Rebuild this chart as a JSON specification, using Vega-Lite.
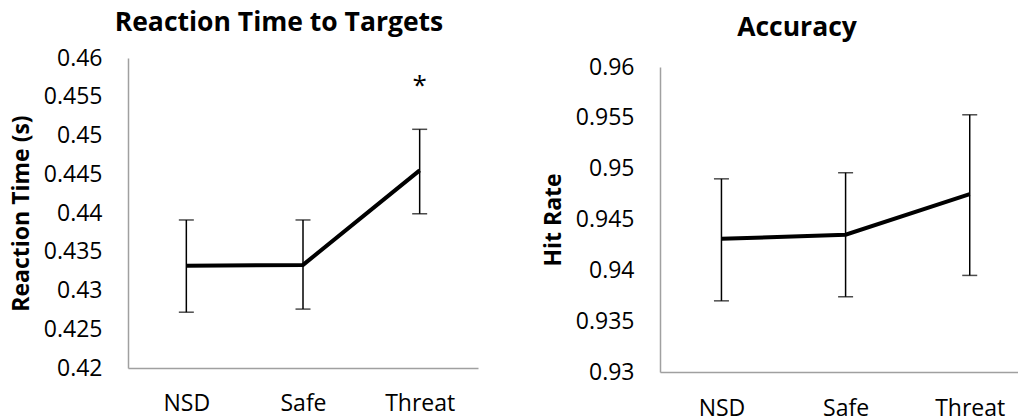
{
  "$schema": "https://vega.github.io/schema/vega-lite/v6.json",
  "background": "white",
  "padding": {"left": 10, "top": 9, "right": 0, "bottom": 0},
  "config": {
    "view": {"stroke": null},
    "font": "Open Sans",
    "axis": {"labelFont": "Open Sans", "labelFontSize": 23, "labelColor": "#000", "titleFont": "Open Sans", "titleFontSize": 23, "titleFontWeight": "bold", "titleColor": "#000", "domainColor": "#a0a0a0", "domainWidth": 1.5, "ticks": false, "grid": false, "labelOverlap": false},
    "title": {"font": "Open Sans", "fontSize": 26.5, "fontWeight": "bold", "color": "#000"}
  },
  "spacing": 64,
  "datasets": {
    "rt": [
      {"cond": "NSD", "mean": 0.4332, "lo": 0.4272, "hi": 0.4391},
      {"cond": "Safe", "mean": 0.4333, "lo": 0.4276, "hi": 0.4391},
      {"cond": "Threat", "mean": 0.4455, "lo": 0.4399, "hi": 0.4508}
    ],
    "acc": [
      {"cond": "NSD", "mean": 0.9431, "lo": 0.9370, "hi": 0.9490},
      {"cond": "Safe", "mean": 0.9435, "lo": 0.9374, "hi": 0.9496},
      {"cond": "Threat", "mean": 0.9475, "lo": 0.9395, "hi": 0.9553}
    ],
    "star": [{"cond": "Threat", "y": 0.4568, "label": "*"}]
  },
  "hconcat": [
    {
      "width": 350,
      "height": 310,
      "title": {"text": "Reaction Time to Targets", "offset": 11, "dx": -24},
      "layer": [
        {
          "data": {"name": "rt"},
          "mark": {"type": "rule", "color": "#000", "strokeWidth": 1.5},
          "encoding": {
            "x": {"field": "cond", "type": "nominal", "sort": ["NSD", "Safe", "Threat"], "scale": {"type": "point", "padding": 0.5}, "axis": {"title": null, "labelAngle": 0, "labelPadding": 24}},
            "y": {"field": "lo", "type": "quantitative", "scale": {"domain": [0.42, 0.46], "nice": false, "zero": false}, "axis": {"title": "Reaction Time (s)", "tickCount": 9, "format": ".3~f", "labelOverlap": false, "labelSeparation": 0, "labelPadding": 26, "titlePadding": 10}},
            "y2": {"field": "hi"}
          }
        },
        {
          "data": {"name": "rt"},
          "mark": {"type": "tick", "color": "#000", "thickness": 1.5, "size": 15, "orient": "horizontal"},
          "encoding": {
            "x": {"field": "cond", "type": "nominal", "sort": ["NSD", "Safe", "Threat"]},
            "y": {"field": "lo", "type": "quantitative"}
          }
        },
        {
          "data": {"name": "rt"},
          "mark": {"type": "tick", "color": "#000", "thickness": 1.5, "size": 15, "orient": "horizontal"},
          "encoding": {
            "x": {"field": "cond", "type": "nominal", "sort": ["NSD", "Safe", "Threat"]},
            "y": {"field": "hi", "type": "quantitative"}
          }
        },
        {
          "data": {"name": "rt"},
          "mark": {"type": "line", "color": "#000", "strokeWidth": 4},
          "encoding": {
            "x": {"field": "cond", "type": "nominal", "sort": ["NSD", "Safe", "Threat"]},
            "y": {"field": "mean", "type": "quantitative"}
          }
        },
        {
          "data": {"name": "star"},
          "mark": {"type": "text", "color": "#000", "fontSize": 26, "font": "Open Sans", "baseline": "middle", "dy": 3},
          "encoding": {
            "x": {"field": "cond", "type": "nominal", "sort": ["NSD", "Safe", "Threat"]},
            "y": {"field": "y", "type": "quantitative"},
            "text": {"field": "label"}
          }
        }
      ]
    },
    {
      "width": 360,
      "height": 314,
      "title": {"text": "Accuracy", "offset": 15, "dx": -43},
      "layer": [
        {
          "data": {"name": "acc"},
          "mark": {"type": "rule", "color": "#000", "strokeWidth": 1.5},
          "encoding": {
            "x": {"field": "cond", "type": "nominal", "sort": ["NSD", "Safe", "Threat"], "scale": {"type": "point", "padding": 0.45, "align": 0.55}, "axis": {"title": null, "labelAngle": 0, "labelPadding": 25}},
            "y": {"field": "lo", "type": "quantitative", "scale": {"domain": [0.93, 0.96], "nice": false, "zero": false, "range": [314, 9]}, "axis": {"title": "Hit Rate", "values": [0.93, 0.935, 0.94, 0.945, 0.95, 0.955, 0.96], "format": ".3~f", "labelOverlap": false, "labelPadding": 26, "titlePadding": 10}},
            "y2": {"field": "hi"}
          }
        },
        {
          "data": {"name": "acc"},
          "mark": {"type": "tick", "color": "#000", "thickness": 1.5, "size": 15, "orient": "horizontal"},
          "encoding": {
            "x": {"field": "cond", "type": "nominal", "sort": ["NSD", "Safe", "Threat"]},
            "y": {"field": "lo", "type": "quantitative"}
          }
        },
        {
          "data": {"name": "acc"},
          "mark": {"type": "tick", "color": "#000", "thickness": 1.5, "size": 15, "orient": "horizontal"},
          "encoding": {
            "x": {"field": "cond", "type": "nominal", "sort": ["NSD", "Safe", "Threat"]},
            "y": {"field": "hi", "type": "quantitative"}
          }
        },
        {
          "data": {"name": "acc"},
          "mark": {"type": "line", "color": "#000", "strokeWidth": 4},
          "encoding": {
            "x": {"field": "cond", "type": "nominal", "sort": ["NSD", "Safe", "Threat"]},
            "y": {"field": "mean", "type": "quantitative"}
          }
        }
      ]
    }
  ]
}
